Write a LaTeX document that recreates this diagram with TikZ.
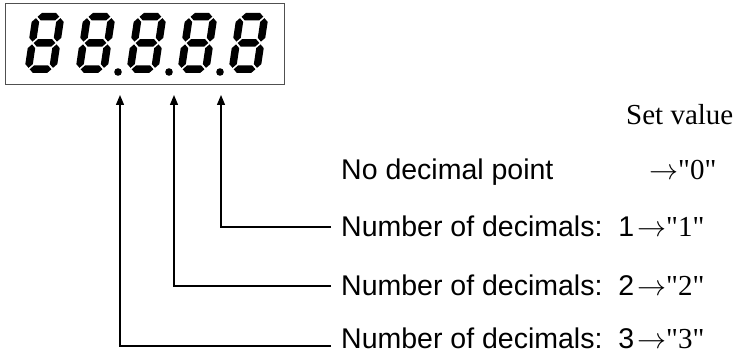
\RequirePackage{fix-cm}
\documentclass[tikz,border=0pt]{standalone}
\usepackage{fontspec}
\setmainfont{Liberation Serif}
\setsansfont{Liberation Sans}
\newfontfamily\valfont{Liberation Serif}
\usetikzlibrary{arrows.meta, positioning}
\definecolor{frame}{HTML}{505050}
\definecolor{ink}{HTML}{000000}

% seven-segment geometry (local units, before slant)
\newcommand{\segW}{32}
\newcommand{\segH}{60}
\newcommand{\segT}{7.5}
\newcommand{\segG}{1.4}
% horizontal segment at centre height #1
\newcommand{\hseg}[1]{%
  \fill[ink] ({\segT/2+\segG},{#1})
    -- ({\segT+\segG},{#1+\segT/2})
    -- ({\segW-\segT-\segG},{#1+\segT/2})
    -- ({\segW-\segT/2-\segG},{#1})
    -- ({\segW-\segT-\segG},{#1-\segT/2})
    -- ({\segT+\segG},{#1-\segT/2}) -- cycle;}
% vertical segment at x=#1 from #2 to #3
\newcommand{\vseg}[3]{%
  \fill[ink] ({#1},{#2+\segG})
    -- ({#1+\segT/2},{#2+\segG+\segT/2})
    -- ({#1+\segT/2},{#3-\segG-\segT/2})
    -- ({#1},{#3-\segG})
    -- ({#1-\segT/2},{#3-\segG-\segT/2})
    -- ({#1-\segT/2},{#2+\segG+\segT/2}) -- cycle;}
\newcommand{\segdigit}[2]{%
  \begin{scope}[shift={(#1,#2)}, xslant=0.15]
    \hseg{\segT/2}
    \hseg{\segH/2}
    \hseg{\segH-\segT/2}
    \vseg{\segT/2}{\segT/2}{\segH/2}
    \vseg{\segT/2}{\segH/2}{\segH-\segT/2}
    \vseg{\segW-\segT/2}{\segT/2}{\segH/2}
    \vseg{\segW-\segT/2}{\segH/2}{\segH-\segT/2}
  \end{scope}}
% set-value arrow with straight quotes
\newcommand{\setto}[1]{$\rightarrow$"#1"}

\tikzset{
  lbl/.style={font=\sffamily\fontsize{28.5}{34}\selectfont, inner sep=0pt, anchor=base west},
  val/.style={font=\valfont\fontsize{29}{34}\selectfont, inner sep=0pt, anchor=base west},
  ptr/.style={line width=1.3pt, line join=miter,
              -{Triangle[length=10pt,width=8pt]}}
}

\begin{document}
\begin{tikzpicture}[x=1pt, y=1pt]
  \useasboundingbox (0,0) rectangle (735,353);
  % Display frame
  \draw[frame, line width=1pt] (5,268) rectangle (284,349);
  % Digits 8 8.8.8.8
  \foreach \dx in {24,75,126,177,228}{
    \segdigit{\dx}{280}
  }
  \foreach \n/\px in {3/118, 2/169, 1/220}{
    \fill[ink] (\px,281) circle (3.8) coordinate (dp\n);
  }
  % Column heading
  \node[val] (head) at (626,228) {Set value};
  % No decimal point
  \node[lbl] (lbl0) at (341,173) {No decimal point};
  \node[val] (val0) at (649,173) {\setto{0}};
  % Decimal rows with pointers
  \foreach \n/\ax/\ly/\lb in {1/221/126/116, 2/174/67/57, 3/120/7/5}{
    \node[lbl] (lbl\n) at (341,\lb) {Number of decimals:\ \ \n};
    \node[val] (val\n) at (637,\lb) {\setto{\n}};
    \coordinate (end\n) at (331,\ly);
    \coordinate (tip\n) at (\ax,258);
    \draw[ptr] (end\n) -| (tip\n);
  }
\end{tikzpicture}
\end{document}
